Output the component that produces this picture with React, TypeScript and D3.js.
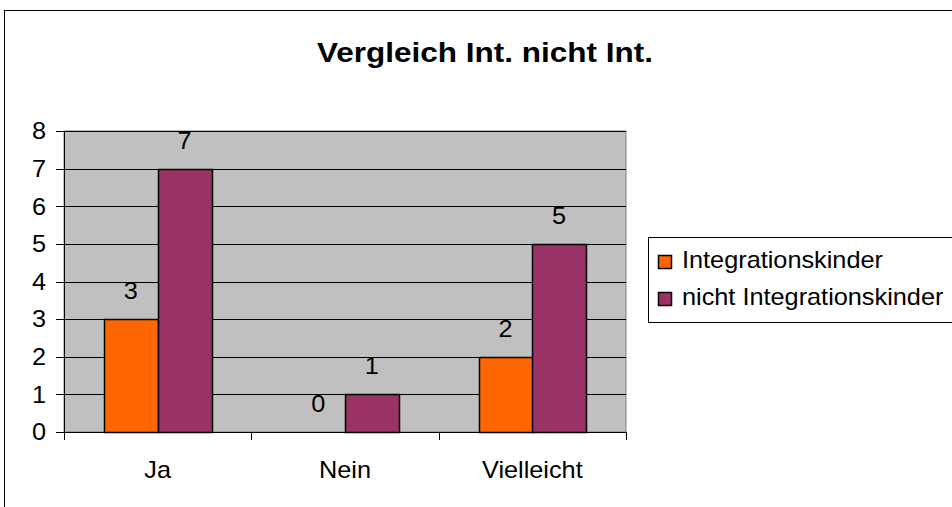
import React from "react";
import * as d3 from "d3";

const categories = ["Ja", "Nein", "Vielleicht"];
const seriesNames = ["Integrationskinder", "nicht Integrationskinder"];
const integrationskinder = [3, 0, 2];
const nichtIntegrationskinder = [7, 1, 5];
const yTicks = [0, 1, 2, 3, 4, 5, 6, 7, 8];
const colors = ["#FF6600", "#993366"];
const title = "Vergleich Int. nicht Int.";

const W = 952;
const H = 507;
const plot = { left: 64, right: 626, top: 131, bottom: 432 };
const font = "'Liberation Sans', Arial, sans-serif";
const SX = 1.1;

function T({ x, y, anchor = "start", size = 23, bold = false, sx = SX, dy, children }: any) {
  return (
    <text transform={`translate(${x},${y}) scale(${sx},1)`} textAnchor={anchor} fontSize={size} fontWeight={bold ? "bold" : "normal"} dy={dy}>
      {children}
    </text>
  );
}

export default function App() {
  const series = [integrationskinder, nichtIntegrationskinder];
  const x = d3.scaleBand<string>().domain(categories).range([plot.left, plot.right]).paddingInner(0).paddingOuter(0);
  const bw = x.bandwidth() / 3.5;
  const xs = d3.scaleBand<string>().domain(seriesNames).range([0, 2 * bw]);
  const y = d3.scaleLinear().domain([0, 8]).range([plot.bottom, plot.top]);

  return (
    <svg width={W} height={H} style={{ position: "absolute", left: 0, top: 0, background: "#fff" }} fontFamily={font}>
      <rect x={4.5} y={10.5} width={1000} height={600} fill="#fff" stroke="#000" strokeWidth={1} />
      <T x={485} y={62} anchor="middle" size={28} bold sx={1.125}>{title}</T>
      <rect x={plot.left} y={plot.top} width={plot.right - plot.left} height={plot.bottom - plot.top} fill="#C0C0C0" stroke="#808080" strokeWidth={1} />
      {yTicks.map((t) => (
        <g key={t}>
          <line x1={plot.left} x2={plot.right} y1={Math.round(y(t)) + 0.5} y2={Math.round(y(t)) + 0.5} stroke="#000" strokeWidth={1} />
          <line x1={plot.left - 8} x2={plot.left} y1={Math.round(y(t)) + 0.5} y2={Math.round(y(t)) + 0.5} stroke="#000" />
          <T x={46} y={y(t)} dy="0.36em" anchor="end">{t}</T>
        </g>
      ))}
      <line x1={plot.left + 0.5} x2={plot.left + 0.5} y1={plot.top} y2={plot.bottom + 8} stroke="#000" />
      {categories.map((c) => (
        <line key={c} x1={Math.round(x(c)! + x.bandwidth()) + 0.5} x2={Math.round(x(c)! + x.bandwidth()) + 0.5} y1={plot.bottom} y2={plot.bottom + 8} stroke="#000" />
      ))}
      {categories.map((c) => (
        <T key={c} x={x(c)! + x.bandwidth() / 2} y={478} anchor="middle">{c}</T>
      ))}
      {categories.map((c, i) => {
        const gx = x(c)! + x.bandwidth() / 2 - bw;
        return series.map((s, j) => {
          const bx = gx + xs(seriesNames[j])!;
          const v = s[i];
          return (
            <g key={c + j}>
              {v > 0 && (
                <rect x={Math.round(bx) + 0.5} y={Math.round(y(v)) + 0.5} width={Math.round(bw)} height={Math.round(y(0) - y(v))} fill={colors[j]} stroke="#000" strokeWidth={1.5} />
              )}
              <T x={bx + bw / 2} y={y(v) - 20} anchor="middle">{v}</T>
            </g>
          );
        });
      })}
      <rect x={648.5} y={237.5} width={400} height={85} fill="#fff" stroke="#000" strokeWidth={1} />
      {seriesNames.map((n, j) => (
        <g key={n}>
          <rect x={658.5} y={255.5 + j * 37} width={13} height={13} fill={colors[j]} stroke="#000" strokeWidth={1.5} />
          <T x={682} y={268 + j * 37}>{n}</T>
        </g>
      ))}
    </svg>
  );
}
